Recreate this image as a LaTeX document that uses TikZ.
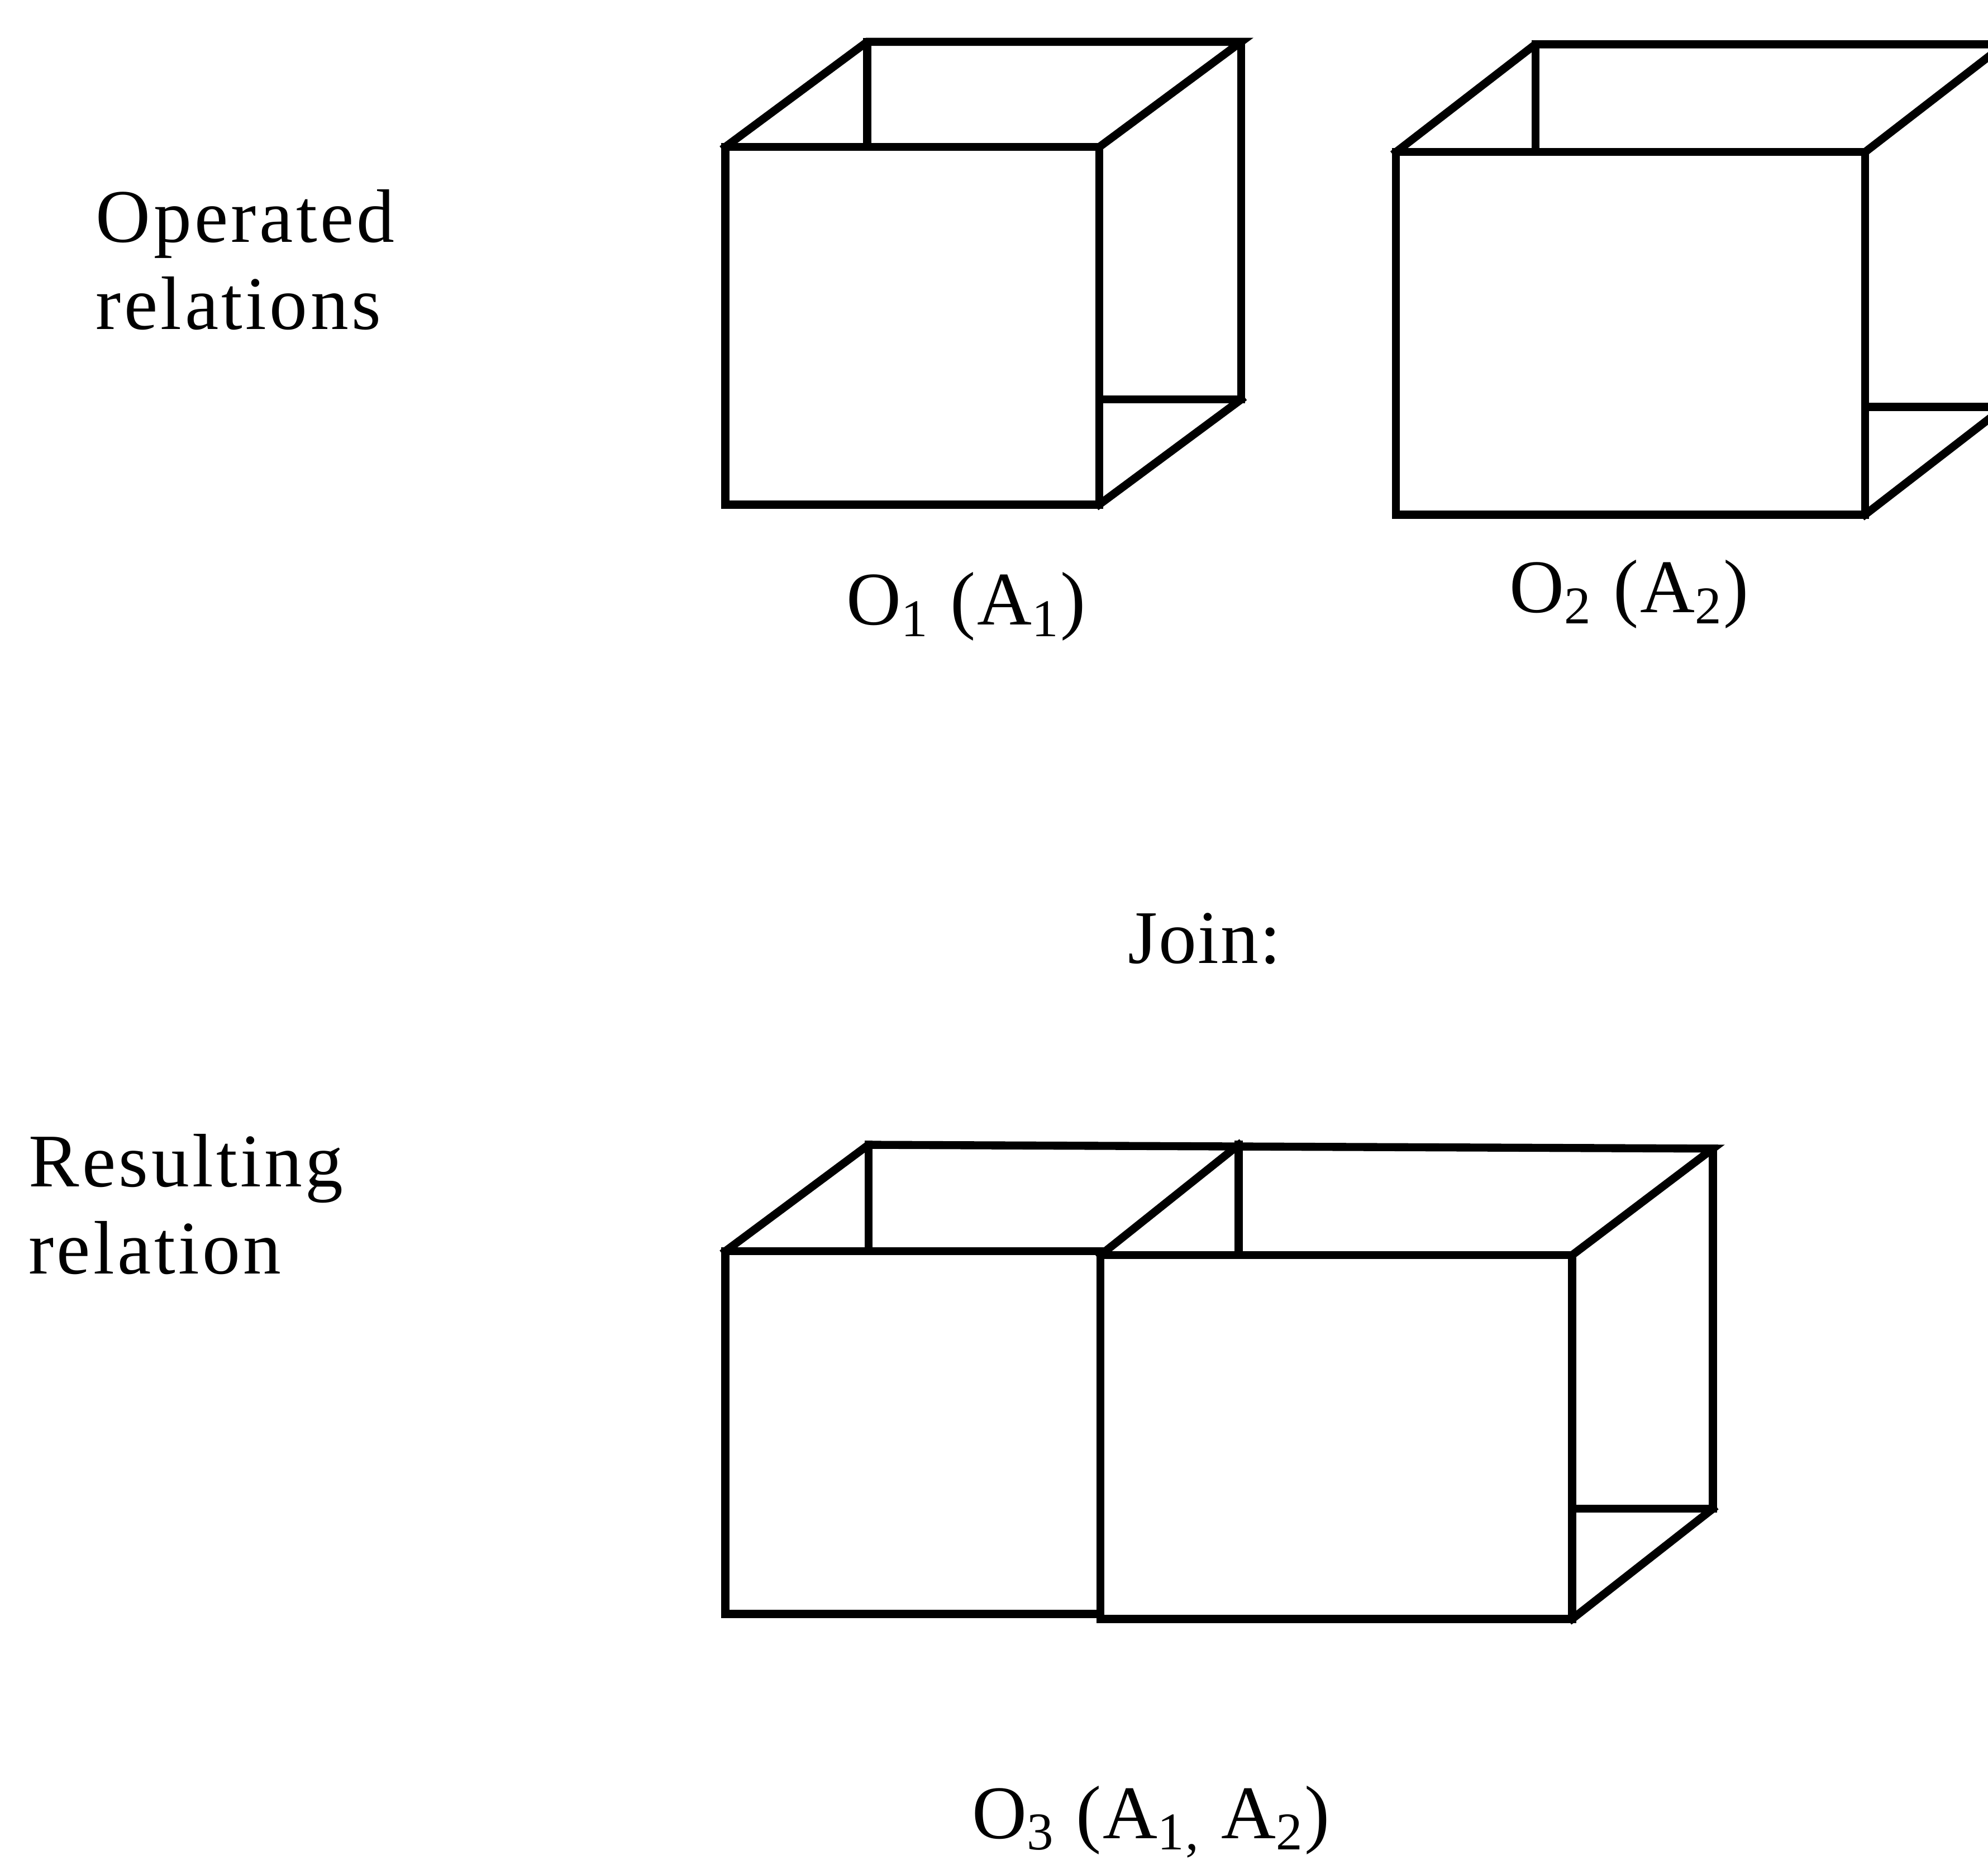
\documentclass[tikz,border=0pt]{standalone}
\usepackage{fontspec}
\setmainfont{Liberation Serif}
\tikzset{
  edg/.style={line width=1.8pt,line join=miter,line cap=rect},
  sidelbl/.style={anchor=north west,inner sep=0pt,align=left,
                  font=\fontsize{17}{19.5}\selectfont\addfontfeature{LetterSpace=4}},
  caplbl/.style={anchor=base,inner sep=0pt,
                 font=\fontsize{17}{19.5}\selectfont\addfontfeature{LetterSpace=2}},
}
\begin{document}
\begin{tikzpicture}
  \clip (0,0) rectangle (15.68,14.67);

  \node[sidelbl] (oplbl) at (0.75,13.18) {Operated\\relations};
  \node[sidelbl] (reslbl) at (0.22,5.73) {Resulting\\relation};

  \foreach \x/\y/\w/\h/\dx/\dy in {5.72/10.69/2.95/2.82/1.12/0.83,
                                   11.01/10.61/3.70/2.86/1.10/0.85}{
    \draw[edg] (\x,\y) rectangle ++(\w,\h);
    \draw[edg] (\x,\y+\h) -- ++(\dx,\dy) -- ++(\w,0) -- (\x+\w,\y+\h);
    \draw[edg] (\x+\dx,\y+\h+\dy) -- (\x+\dx,\y+\h);
    \draw[edg] (\x+\w+\dx,\y+\h+\dy) -- (\x+\w+\dx,\y+\dy) -- (\x+\w,\y+\dy);
    \draw[edg] (\x+\w,\y) -- (\x+\w+\dx,\y+\dy);
  }

  \node[caplbl] (olbl1) at (7.62,9.74) {O\textsubscript{1} (A\textsubscript{1})};
  \node[caplbl] (olbl2) at (12.85,9.84) {O\textsubscript{2} (A\textsubscript{2})};
  \node[caplbl] (joinlbl) at (9.50,7.07) {Join:};

  \draw[edg] (5.72,1.94) rectangle (8.68,4.80);
  \draw[edg] (8.68,1.90) rectangle (12.40,4.77);
  \draw[edg] (5.72,4.80) -- (6.85,5.64) -- (13.51,5.61) -- (12.40,4.77);
  \draw[edg] (8.68,4.77) -- (9.77,5.64);
  \draw[edg] (6.85,5.64) -- (6.85,4.80);
  \draw[edg] (9.77,5.64) -- (9.77,4.77);
  \draw[edg] (13.51,5.61) -- (13.51,2.77) -- (12.40,2.77);
  \draw[edg] (12.40,1.90) -- (13.51,2.77);

  \node[caplbl] (olbl3) at (9.08,0.17) {O\textsubscript{3} (A\textsubscript{1,} A\textsubscript{2})};
\end{tikzpicture}
\end{document}
